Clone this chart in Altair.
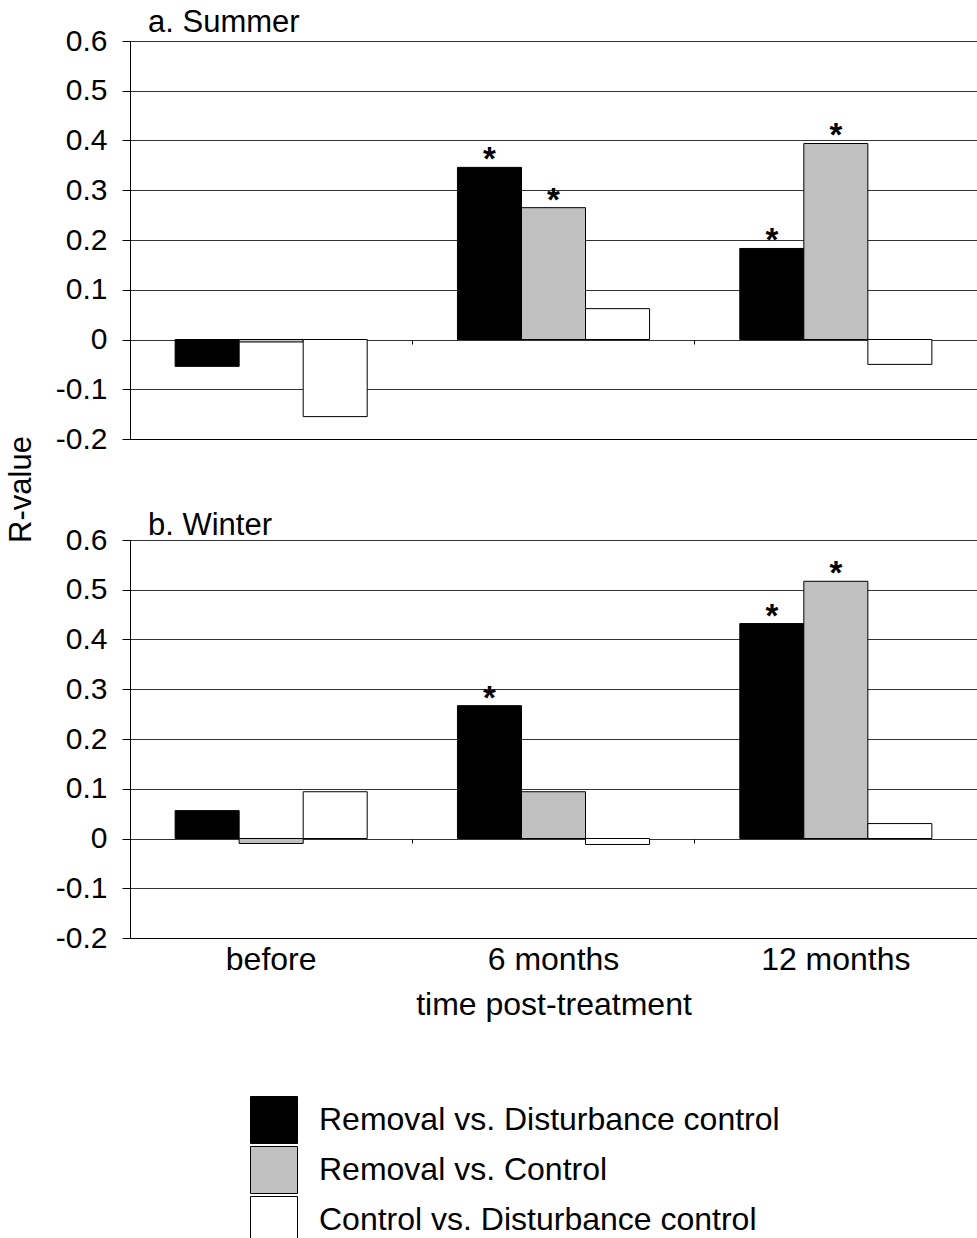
import altair as alt
import pandas as pd

# Categories and series
periods = ["before", "6 months", "12 months"]
series = [
    "Removal vs. Disturbance control",
    "Removal vs. Control",
    "Control vs. Disturbance control",
]
colors = ["#000000", "#c0c0c0", "#ffffff"]

# R-values per series (before, 6 months, 12 months)
summer_rem_dist = [-0.054, 0.346, 0.183]
summer_rem_ctrl = [-0.005, 0.265, 0.394]
summer_ctrl_dist = [-0.155, 0.062, -0.050]

winter_rem_dist = [0.056, 0.267, 0.432]
winter_rem_ctrl = [-0.010, 0.094, 0.517]
winter_ctrl_dist = [0.094, -0.012, 0.030]

# Significance markers (*) per series
summer_sig = [[False, True, True], [False, True, True], [False, False, False]]
winter_sig = [[False, True, True], [False, False, True], [False, False, False]]

y_ticks = [-0.2, -0.1, 0.0, 0.1, 0.2, 0.3, 0.4, 0.5, 0.6]

FONT = "Liberation Sans"
W, H = 847, 398


def frame(values, sig):
    rows = []
    for s_name, vals, flags in zip(series, values, sig):
        for p, v, f in zip(periods, vals, flags):
            rows.append({"period": p, "series": s_name, "r": v, "sig": f})
    return pd.DataFrame(rows)


summer = frame([summer_rem_dist, summer_rem_ctrl, summer_ctrl_dist], summer_sig)
winter = frame([winter_rem_dist, winter_rem_ctrl, winter_ctrl_dist], winter_sig)

label_expr = "datum.value == 0 ? '0' : replace(format(datum.value, '.1f'), '\u2212', '-')"


def panel(df, title, bottom, title_offset):
    x_scale = alt.Scale(domain=periods, paddingInner=0, paddingOuter=0)
    xoff = alt.XOffset("series:N", sort=series,
                       scale=alt.Scale(domain=series, paddingInner=0, paddingOuter=0.705))
    if bottom:
        x_axis = alt.Axis(title="time post-treatment", labels=True, ticks=False, domain=True,
                          domainColor="black", labelFontSize=32, labelColor="black",
                          labelPadding=6, titleFontSize=32, titleFontWeight="normal",
                          titleColor="black", titlePadding=14, labelAngle=0, grid=False)
    else:
        x_axis = alt.Axis(title=None, labels=False, ticks=False, domain=True,
                          domainColor="black", grid=False)
    y_common = dict(values=y_ticks, labelExpr=label_expr, grid=True, gridColor="black",
                    gridOpacity=0.8, tickSize=8, tickColor="black", domainColor="black",
                    labelFontSize=30, labelColor="black", labelPadding=15)
    if bottom:
        y_axis = alt.Axis(title=None, **y_common)
    else:
        y_axis = alt.Axis(title="R-value", titleFontSize=31, titleFontWeight="normal",
                          titleColor="black", titleAngle=270, titleX=-109,
                          titleY=H + 50, titleAlign="center", titleBaseline="middle",
                          **y_common)
    y = alt.Y("r:Q", scale=alt.Scale(domain=[-0.2, 0.6], nice=False, zero=False), axis=y_axis)

    bars = alt.Chart(df).mark_bar(stroke="black", strokeWidth=1).encode(
        x=alt.X("period:N", sort=periods, scale=x_scale, axis=x_axis),
        xOffset=xoff,
        y=y,
        color=alt.Color("series:N", sort=series,
                        scale=alt.Scale(domain=series, range=colors),
                        legend=alt.Legend(title=None, orient="none", legendX=120, legendY=1055,
                                          symbolType="square", symbolSize=2209,
                                          symbolStrokeColor="black", symbolStrokeWidth=1,
                                          labelFontSize=32, labelColor="black",
                                          labelOffset=21, rowPadding=-6, labelLimit=700)),
    )

    # Category tick marks along the zero line
    zero_ticks = alt.Chart(df).mark_point(opacity=0).encode(
        x=alt.X("period:N", sort=periods, scale=x_scale,
                axis=alt.Axis(title=None, labels=False, domain=False, ticks=True,
                              tickSize=4, tickColor="black", bandPosition=0,
                              orient="bottom", offset=-99, grid=False)),
    )

    stars = alt.Chart(df).transform_filter("datum.sig").mark_text(
        text="*", fontSize=33, fontWeight="bold", baseline="alphabetic", dy=3, color="black"
    ).encode(
        x=alt.X("period:N", sort=periods, scale=x_scale, axis=None),
        xOffset=xoff,
        y=alt.Y("r:Q"),
    )

    return alt.layer(bars, stars, zero_ticks).resolve_axis(x="independent").properties(
        width=W, height=H,
        title=alt.TitleParams(title, anchor="start", frame="group", dx=18, fontSize=31,
                              fontWeight="normal", color="black", baseline="alphabetic",
                              offset=title_offset),
    )


chart = alt.vconcat(
    panel(summer, "a. Summer", False, -37),
    panel(winter, "b. Winter", True, -41),
    spacing=101,
    bounds="flush",
).properties(
    padding={"left": 5, "top": 7, "right": 0, "bottom": 5},
    background="white",
).configure(font=FONT).configure_view(stroke=None)

chart.save("out.html", embed_options={"renderer": "svg", "actions": False})
